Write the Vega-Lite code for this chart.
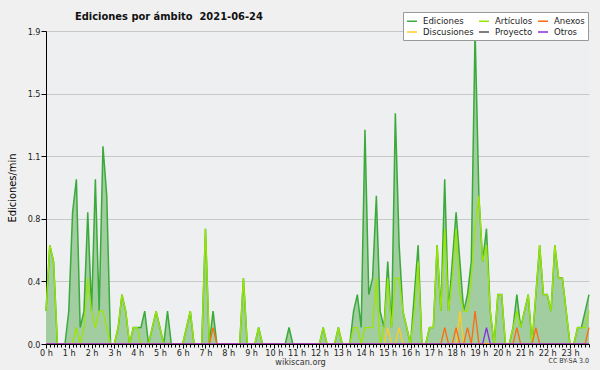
{
  "$schema": "https://vega.github.io/schema/vega-lite/v6.json",
  "width": 543,
  "height": 313,
  "autosize": "none",
  "padding": {"left": 46, "top": 31, "right": 11, "bottom": 26},
  "background": "#f0f0f0",
  "title": {"text": "Ediciones por ámbito\u00a0 2021-06-24", "anchor": "start", "frame": "group", "dx": 29, "offset": 0, "dy": 10, "fontSize": 11, "font": "DejaVu Sans Condensed, DejaVu Sans", "fontWeight": "bold", "color": "#111"},
  "config": {
    "view": {"stroke": null, "fill": "#eeeff1"},
    "font": "DejaVu Sans Condensed, DejaVu Sans"
  },
  "data": {"values": [
    {"m":0,"ed":0.2,"art":0.2,"anx":0,"dis":0,"otr":0},
    {"m":10,"ed":0.6,"art":0.6,"anx":0,"dis":0,"otr":0},
    {"m":20,"ed":0.5,"art":0.5,"anx":0,"dis":0,"otr":0},
    {"m":30,"ed":0,"art":0,"anx":0,"dis":0,"otr":0},
    {"m":40,"ed":0,"art":0,"anx":0,"dis":0,"otr":0},
    {"m":50,"ed":0,"art":0,"anx":0,"dis":0,"otr":0},
    {"m":60,"ed":0.2,"art":0,"anx":0,"dis":0,"otr":0},
    {"m":70,"ed":0.8,"art":0,"anx":0,"dis":0,"otr":0},
    {"m":80,"ed":1.0,"art":0.1,"anx":0,"dis":0,"otr":0},
    {"m":90,"ed":0.1,"art":0,"anx":0,"dis":0,"otr":0},
    {"m":100,"ed":0.2,"art":0.1,"anx":0,"dis":0,"otr":0},
    {"m":110,"ed":0.8,"art":0.4,"anx":0,"dis":0,"otr":0},
    {"m":120,"ed":0.2,"art":0.2,"anx":0,"dis":0,"otr":0},
    {"m":130,"ed":1.0,"art":0.1,"anx":0,"dis":0,"otr":0},
    {"m":140,"ed":0.2,"art":0.2,"anx":0,"dis":0,"otr":0},
    {"m":150,"ed":1.2,"art":0.2,"anx":0,"dis":0,"otr":0},
    {"m":160,"ed":0.9,"art":0.1,"anx":0,"dis":0,"otr":0},
    {"m":170,"ed":0,"art":0,"anx":0,"dis":0,"otr":0},
    {"m":180,"ed":0,"art":0,"anx":0,"dis":0,"otr":0},
    {"m":190,"ed":0.1,"art":0.1,"anx":0,"dis":0,"otr":0},
    {"m":200,"ed":0.3,"art":0.3,"anx":0,"dis":0,"otr":0},
    {"m":210,"ed":0.2,"art":0.2,"anx":0,"dis":0,"otr":0},
    {"m":220,"ed":0,"art":0,"anx":0,"dis":0,"otr":0},
    {"m":230,"ed":0.1,"art":0.1,"anx":0,"dis":0,"otr":0},
    {"m":240,"ed":0.1,"art":0.1,"anx":0,"dis":0,"otr":0},
    {"m":250,"ed":0.1,"art":0,"anx":0,"dis":0,"otr":0},
    {"m":260,"ed":0.2,"art":0,"anx":0,"dis":0,"otr":0},
    {"m":270,"ed":0,"art":0,"anx":0,"dis":0,"otr":0},
    {"m":280,"ed":0.1,"art":0.1,"anx":0,"dis":0,"otr":0},
    {"m":290,"ed":0.2,"art":0.2,"anx":0,"dis":0,"otr":0},
    {"m":300,"ed":0.1,"art":0.1,"anx":0,"dis":0,"otr":0},
    {"m":310,"ed":0,"art":0,"anx":0,"dis":0,"otr":0},
    {"m":320,"ed":0.2,"art":0,"anx":0,"dis":0,"otr":0},
    {"m":330,"ed":0,"art":0,"anx":0,"dis":0,"otr":0},
    {"m":340,"ed":0,"art":0,"anx":0,"dis":0,"otr":0},
    {"m":350,"ed":0,"art":0,"anx":0,"dis":0,"otr":0},
    {"m":360,"ed":0,"art":0,"anx":0,"dis":0,"otr":0},
    {"m":370,"ed":0.1,"art":0.1,"anx":0,"dis":0,"otr":0},
    {"m":380,"ed":0.2,"art":0.2,"anx":0,"dis":0,"otr":0},
    {"m":390,"ed":0,"art":0,"anx":0,"dis":0,"otr":0},
    {"m":400,"ed":0,"art":0,"anx":0,"dis":0,"otr":0},
    {"m":410,"ed":0,"art":0,"anx":0,"dis":0,"otr":0},
    {"m":420,"ed":0.7,"art":0.7,"anx":0,"dis":0,"otr":0},
    {"m":430,"ed":0,"art":0,"anx":0,"dis":0,"otr":0},
    {"m":440,"ed":0.2,"art":0,"anx":0.1,"dis":0,"otr":0},
    {"m":450,"ed":0,"art":0,"anx":0,"dis":0,"otr":0},
    {"m":460,"ed":0,"art":0,"anx":0,"dis":0,"otr":0},
    {"m":470,"ed":0,"art":0,"anx":0,"dis":0,"otr":0},
    {"m":480,"ed":0,"art":0,"anx":0,"dis":0,"otr":0},
    {"m":490,"ed":0,"art":0,"anx":0,"dis":0,"otr":0},
    {"m":500,"ed":0,"art":0,"anx":0,"dis":0,"otr":0},
    {"m":510,"ed":0,"art":0,"anx":0,"dis":0,"otr":0},
    {"m":520,"ed":0.4,"art":0.4,"anx":0,"dis":0,"otr":0},
    {"m":530,"ed":0,"art":0,"anx":0,"dis":0,"otr":0},
    {"m":540,"ed":0,"art":0,"anx":0,"dis":0,"otr":0},
    {"m":550,"ed":0,"art":0,"anx":0,"dis":0,"otr":0},
    {"m":560,"ed":0.1,"art":0.1,"anx":0,"dis":0,"otr":0},
    {"m":570,"ed":0,"art":0,"anx":0,"dis":0,"otr":0},
    {"m":580,"ed":0,"art":0,"anx":0,"dis":0,"otr":0},
    {"m":590,"ed":0,"art":0,"anx":0,"dis":0,"otr":0},
    {"m":600,"ed":0,"art":0,"anx":0,"dis":0,"otr":0},
    {"m":610,"ed":0,"art":0,"anx":0,"dis":0,"otr":0},
    {"m":620,"ed":0,"art":0,"anx":0,"dis":0,"otr":0},
    {"m":630,"ed":0,"art":0,"anx":0,"dis":0,"otr":0},
    {"m":640,"ed":0.1,"art":0,"anx":0,"dis":0,"otr":0},
    {"m":650,"ed":0,"art":0,"anx":0,"dis":0,"otr":0},
    {"m":660,"ed":0,"art":0,"anx":0,"dis":0,"otr":0},
    {"m":670,"ed":0,"art":0,"anx":0,"dis":0,"otr":0},
    {"m":680,"ed":0,"art":0,"anx":0,"dis":0,"otr":0},
    {"m":690,"ed":0,"art":0,"anx":0,"dis":0,"otr":0},
    {"m":700,"ed":0,"art":0,"anx":0,"dis":0,"otr":0},
    {"m":710,"ed":0,"art":0,"anx":0,"dis":0,"otr":0},
    {"m":720,"ed":0,"art":0,"anx":0,"dis":0,"otr":0},
    {"m":730,"ed":0.1,"art":0.1,"anx":0,"dis":0,"otr":0},
    {"m":740,"ed":0,"art":0,"anx":0,"dis":0,"otr":0},
    {"m":750,"ed":0,"art":0,"anx":0,"dis":0,"otr":0},
    {"m":760,"ed":0,"art":0,"anx":0,"dis":0,"otr":0},
    {"m":770,"ed":0.1,"art":0.1,"anx":0,"dis":0,"otr":0},
    {"m":780,"ed":0,"art":0,"anx":0,"dis":0,"otr":0},
    {"m":790,"ed":0,"art":0,"anx":0,"dis":0,"otr":0},
    {"m":800,"ed":0,"art":0,"anx":0,"dis":0,"otr":0},
    {"m":810,"ed":0.2,"art":0.1,"anx":0,"dis":0,"otr":0},
    {"m":820,"ed":0.3,"art":0.1,"anx":0,"dis":0,"otr":0},
    {"m":830,"ed":0.1,"art":0,"anx":0,"dis":0,"otr":0},
    {"m":840,"ed":1.3,"art":0.1,"anx":0,"dis":0,"otr":0},
    {"m":850,"ed":0.3,"art":0.1,"anx":0,"dis":0,"otr":0},
    {"m":860,"ed":0.4,"art":0.1,"anx":0,"dis":0,"otr":0},
    {"m":870,"ed":0.9,"art":0.4,"anx":0,"dis":0,"otr":0},
    {"m":880,"ed":0.2,"art":0,"anx":0,"dis":0,"otr":0},
    {"m":890,"ed":0.1,"art":0.1,"anx":0,"dis":0,"otr":0},
    {"m":900,"ed":0.5,"art":0.4,"anx":0,"dis":0.1,"otr":0},
    {"m":910,"ed":0.1,"art":0.1,"anx":0,"dis":0,"otr":0},
    {"m":920,"ed":1.4,"art":0.4,"anx":0,"dis":0,"otr":0},
    {"m":930,"ed":0.6,"art":0.4,"anx":0,"dis":0.1,"otr":0},
    {"m":940,"ed":0.2,"art":0.2,"anx":0,"dis":0,"otr":0},
    {"m":950,"ed":0.1,"art":0.1,"anx":0,"dis":0,"otr":0},
    {"m":960,"ed":0,"art":0,"anx":0,"dis":0,"otr":0},
    {"m":970,"ed":0.3,"art":0.2,"anx":0,"dis":0,"otr":0},
    {"m":980,"ed":0.6,"art":0.5,"anx":0,"dis":0,"otr":0},
    {"m":990,"ed":0,"art":0,"anx":0,"dis":0,"otr":0},
    {"m":1000,"ed":0,"art":0,"anx":0,"dis":0,"otr":0},
    {"m":1010,"ed":0.1,"art":0.1,"anx":0,"dis":0,"otr":0},
    {"m":1020,"ed":0.1,"art":0.1,"anx":0,"dis":0,"otr":0},
    {"m":1030,"ed":0.6,"art":0.6,"anx":0,"dis":0,"otr":0},
    {"m":1040,"ed":0.2,"art":0.2,"anx":0,"dis":0,"otr":0},
    {"m":1050,"ed":1.0,"art":0.7,"anx":0.1,"dis":0,"otr":0},
    {"m":1060,"ed":0.2,"art":0.2,"anx":0,"dis":0,"otr":0},
    {"m":1070,"ed":0.5,"art":0.4,"anx":0,"dis":0,"otr":0},
    {"m":1080,"ed":0.8,"art":0.7,"anx":0.1,"dis":0,"otr":0},
    {"m":1090,"ed":0.5,"art":0.3,"anx":0,"dis":0.2,"otr":0},
    {"m":1100,"ed":0.2,"art":0.2,"anx":0,"dis":0,"otr":0},
    {"m":1110,"ed":0.3,"art":0.2,"anx":0.1,"dis":0,"otr":0},
    {"m":1120,"ed":0.5,"art":0.4,"anx":0,"dis":0,"otr":0},
    {"m":1130,"ed":1.9,"art":0.7,"anx":0.2,"dis":0,"otr":0},
    {"m":1140,"ed":0.9,"art":0.9,"anx":0,"dis":0,"otr":0},
    {"m":1150,"ed":0.5,"art":0.5,"anx":0,"dis":0,"otr":0},
    {"m":1160,"ed":0.7,"art":0.6,"anx":0,"dis":0,"otr":0.1},
    {"m":1170,"ed":0.2,"art":0.2,"anx":0,"dis":0,"otr":0},
    {"m":1180,"ed":0,"art":0,"anx":0,"dis":0,"otr":0},
    {"m":1190,"ed":0.3,"art":0.3,"anx":0,"dis":0,"otr":0},
    {"m":1200,"ed":0.3,"art":0.3,"anx":0,"dis":0,"otr":0},
    {"m":1210,"ed":0,"art":0,"anx":0,"dis":0,"otr":0},
    {"m":1220,"ed":0,"art":0,"anx":0,"dis":0,"otr":0},
    {"m":1230,"ed":0.1,"art":0.1,"anx":0,"dis":0,"otr":0},
    {"m":1240,"ed":0.3,"art":0.2,"anx":0.1,"dis":0,"otr":0},
    {"m":1250,"ed":0.1,"art":0.1,"anx":0,"dis":0,"otr":0},
    {"m":1260,"ed":0.2,"art":0.2,"anx":0,"dis":0,"otr":0},
    {"m":1270,"ed":0.3,"art":0.3,"anx":0,"dis":0,"otr":0},
    {"m":1280,"ed":0,"art":0,"anx":0,"dis":0,"otr":0},
    {"m":1290,"ed":0.3,"art":0.3,"anx":0.1,"dis":0,"otr":0},
    {"m":1300,"ed":0.6,"art":0.6,"anx":0,"dis":0,"otr":0},
    {"m":1310,"ed":0.3,"art":0.3,"anx":0,"dis":0,"otr":0},
    {"m":1320,"ed":0.3,"art":0.3,"anx":0,"dis":0,"otr":0},
    {"m":1330,"ed":0.2,"art":0.2,"anx":0,"dis":0,"otr":0},
    {"m":1340,"ed":0.6,"art":0.6,"anx":0,"dis":0,"otr":0},
    {"m":1350,"ed":0.4,"art":0.4,"anx":0,"dis":0,"otr":0},
    {"m":1360,"ed":0.4,"art":0.4,"anx":0,"dis":0,"otr":0},
    {"m":1370,"ed":0.2,"art":0.2,"anx":0,"dis":0,"otr":0},
    {"m":1380,"ed":0,"art":0,"anx":0,"dis":0,"otr":0},
    {"m":1390,"ed":0,"art":0,"anx":0,"dis":0,"otr":0},
    {"m":1400,"ed":0.1,"art":0.1,"anx":0,"dis":0,"otr":0},
    {"m":1410,"ed":0.1,"art":0.1,"anx":0,"dis":0,"otr":0},
    {"m":1420,"ed":0.2,"art":0.1,"anx":0,"dis":0,"otr":0},
    {"m":1430,"ed":0.3,"art":0.2,"anx":0.1,"dis":0,"otr":0}
  ]},
  "layer": [
    {"mark": {"type": "area", "color": "#a1cda1", "opacity": 1},
     "encoding": {
       "x": {"field": "m", "type": "quantitative", "scale": {"domain": [0, 1430], "nice": false, "zero": false},
         "axis": {"tickCount": 143, "labelExpr": "datum.value % 60 == 0 ? (datum.value / 60) + ' h' : ''",
           "tickSize": {"condition": {"test": "datum.value % 60 == 0", "value": 4}, "value": 3},
           "labelOverlap": false, "labelFlush": false, "labelBound": false, "grid": false, "zindex": 1,
           "domainColor": "#000", "domainWidth": 1, "tickColor": "#000", "labelColor": "#222", "labelFontSize": 9, "labelPadding": 0,
           "title": "wikiscan.org", "titleFontSize": 9, "titleFontWeight": "normal", "titleColor": "#333", "titleX": 254, "titleY": 20, "titleAnchor": "middle", "titleBaseline": "alphabetic"}},
       "y": {"field": "ed", "type": "quantitative", "title": "Ediciones/min",
       "scale": {"domain": [0, 1.9], "nice": false},
       "axis": {"values": [0,0.095,0.19,0.285,0.38,0.475,0.57,0.665,0.76,0.855,0.95,1.045,1.14,1.235,1.33,1.425,1.52,1.615,1.71,1.805,1.9],
         "labelExpr": "abs(datum.value/0.38 - round(datum.value/0.38)) < 0.01 ? format(datum.value, '.1f') : ''",
         "tickSize": {"condition": {"test": "abs(datum.value/0.38 - round(datum.value/0.38)) < 0.01", "value": 5}, "value": 3},
         "gridOpacity": {"condition": {"test": "abs(datum.value/0.38 - round(datum.value/0.38)) < 0.01", "value": 1}, "value": 0},
         "gridColor": "#c8c8c8", "domainColor": "#000", "tickColor": "#000", "labelColor": "#222", "labelFontSize": 9, "labelPadding": 1, "labelOverlap": false, "labelFlush": false,
         "titleFontSize": 11, "titleFontWeight": "normal", "titleColor": "#000", "titlePadding": 10}}}},
    {"mark": {"type": "line", "strokeWidth": 1.5},
     "encoding": {"x": {"field": "m", "type": "quantitative", "title": "wikiscan.org"}, "y": {"field": "ed", "type": "quantitative", "title": "Ediciones/min"},
       "color": {"datum": "Ediciones", "type": "nominal",
         "scale": {"domain": ["Ediciones", "Artículos", "Anexos", "Discusiones", "Proyecto", "Otros"], "range": ["#3aaa3a", "#9be600", "#ff6a10", "#ffcc22", "#555555", "#8a2be2"]},
         "legend": {"title": null, "orient": "none", "legendX": 357, "legendY": -19, "columns": 3, "direction": "horizontal",
           "fillColor": "#ffffff", "strokeColor": "#999999", "padding": 3, "rowPadding": 0, "columnPadding": 2,
           "symbolType": "stroke", "symbolStrokeWidth": 1.5, "symbolSize": 100, "labelFontSize": 9.5, "labelColor": "#222", "labelOffset": 5}}}},
    {"mark": {"type": "line", "strokeWidth": 1.3},
     "encoding": {"x": {"field": "m", "type": "quantitative", "title": "wikiscan.org"}, "y": {"field": "art", "type": "quantitative", "title": "Ediciones/min"}, "color": {"datum": "Artículos", "type": "nominal"}}},
    {"mark": {"type": "line", "strokeWidth": 1.3},
     "encoding": {"x": {"field": "m", "type": "quantitative", "title": "wikiscan.org"}, "y": {"field": "dis", "type": "quantitative", "title": "Ediciones/min"}, "color": {"datum": "Discusiones", "type": "nominal"}}},
    {"mark": {"type": "line", "strokeWidth": 1.3},
     "encoding": {"x": {"field": "m", "type": "quantitative", "title": "wikiscan.org"}, "y": {"field": "anx", "type": "quantitative", "title": "Ediciones/min"}, "color": {"datum": "Anexos", "type": "nominal"}}},
    {"mark": {"type": "line", "strokeWidth": 1.3},
     "encoding": {"x": {"field": "m", "type": "quantitative", "title": "wikiscan.org"}, "y": {"field": "otr", "type": "quantitative", "title": "Ediciones/min"}, "color": {"datum": "Otros", "type": "nominal"}}},
    {"data": {"values": [{"m": 1430, "v": 0}]},
     "mark": {"type": "text", "text": "CC BY-SA 3.0", "align": "right", "baseline": "alphabetic", "dy": 19, "fontSize": 7, "color": "#333"},
     "encoding": {"x": {"field": "m", "type": "quantitative", "title": "wikiscan.org"}, "y": {"field": "v", "type": "quantitative", "title": "Ediciones/min"}}}
  ]
}
